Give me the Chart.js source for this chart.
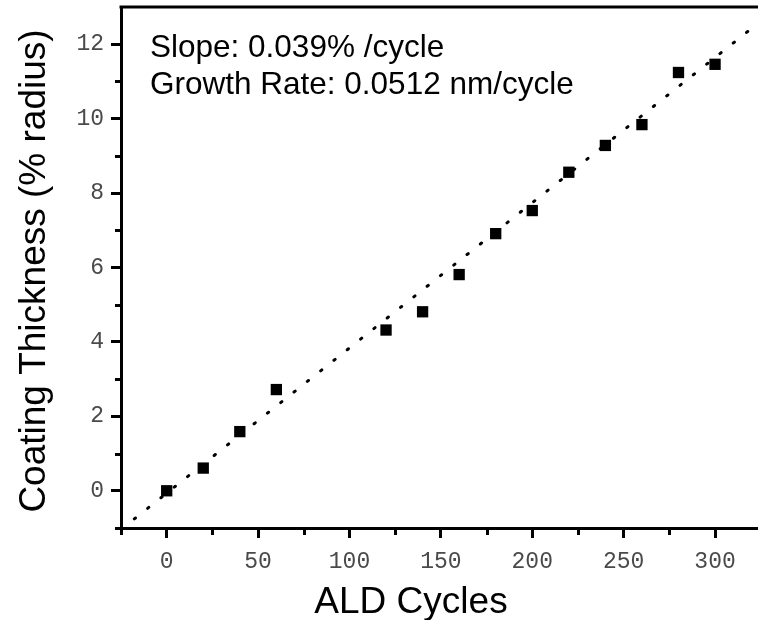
<!DOCTYPE html>
<html>
<head>
<meta charset="utf-8">
<script src="https://cdn.jsdelivr.net/npm/chart.js@4"></script>
<style>
  body { margin: 0; background: #fff; }
  canvas { display: block; }
</style>
</head>
<body>
<canvas id="thicknessChart" width="758" height="620"></canvas>
<script>
// Coating thickness vs ALD cycles
const cycles = [0, 20, 40, 60, 120, 140, 160, 180, 200, 220, 240, 260, 280, 300];
const thickness = [0, 0.61, 1.59, 2.72, 4.32, 4.81, 5.81, 6.91, 7.53, 8.56, 9.28, 9.84, 11.24, 11.46];

// linear fit (dotted line)
const fitCycles = [-25, 323.5];
const fitThickness = [-1.04, 12.56];

const xTicks = [0, 50, 100, 150, 200, 250, 300];
const yTicks = [0, 2, 4, 6, 8, 10, 12];
const xMinorTicks = [-25, 25, 75, 125, 175, 225, 275];
const yMinorTicks = [-1, 1, 3, 5, 7, 9, 11];

const annotationLines = ['Slope: 0.039% /cycle', 'Growth Rate: 0.0512 nm/cycle'];
const xTitle = 'ALD Cycles';
const yTitle = 'Coating Thickness (% radius)';

const tickFont = { family: '"Liberation Mono", "Courier New", monospace', size: 23 };
const titleFont = '37px "Liberation Sans", Arial, sans-serif';

// minor ticks, top frame line, titles and the text box
const extrasPlugin = {
    id: 'extras',
    afterDraw(chart) {
        const ctx = chart.ctx;
        const area = chart.chartArea;
        const x = chart.scales.x;
        const y = chart.scales.y;
        ctx.save();
        ctx.strokeStyle = '#000';
        ctx.lineWidth = 3;
        ctx.beginPath();
        xMinorTicks.forEach(v => {
            const px = Math.round(x.getPixelForValue(v)) + 0.5;
            ctx.moveTo(px, area.bottom);
            ctx.lineTo(px, area.bottom + 7);
        });
        yMinorTicks.forEach(v => {
            const py = Math.round(y.getPixelForValue(v)) + 0.5;
            ctx.moveTo(area.left, py);
            ctx.lineTo(area.left - 6, py);
        });
        ctx.stroke();

        // top frame
        ctx.beginPath();
        ctx.moveTo(area.left - 1.5, area.top);
        ctx.lineTo(chart.width, area.top);
        ctx.stroke();

        ctx.fillStyle = '#000';
        ctx.font = titleFont;
        ctx.textAlign = 'center';
        ctx.textBaseline = 'alphabetic';
        ctx.fillText(xTitle, 411, 613);

        ctx.save();
        ctx.translate(45, 271);
        ctx.rotate(-Math.PI / 2);
        ctx.fillText(yTitle, 0, 0);
        ctx.restore();

        ctx.font = '31.5px "Liberation Sans", Arial, sans-serif';
        ctx.textAlign = 'left';
        annotationLines.forEach((line, i) => {
            ctx.fillText(line, 150, 57 + i * 37);
        });
        ctx.restore();
    }
};

const chart = new Chart(document.getElementById('thicknessChart'), {
    type: 'scatter',
    data: {
        datasets: [{
            label: 'Fit',
            data: fitCycles.map((c, i) => ({ x: c, y: fitThickness[i] })),
            showLine: true,
            borderColor: '#000',
            borderWidth: 3,
            borderDash: [1.5, 15.5],
            borderCapStyle: 'round',
            pointRadius: 0,
            order: 2
        }, {
            label: 'Data',
            data: cycles.map((c, i) => ({ x: c, y: thickness[i] })),
            pointStyle: 'rect',
            pointRadius: 8,
            pointBackgroundColor: '#000',
            pointBorderColor: '#000',
            pointBorderWidth: 0,
            order: 1
        }]
    },
    options: {
        responsive: false,
        animation: false,
        layout: {
            autoPadding: false,
            padding: { top: 7, right: 0, left: 0, bottom: 0 }
        },
        plugins: {
            legend: { display: false },
            tooltip: { enabled: false }
        },
        scales: {
            x: {
                type: 'linear',
                min: -25,
                max: 323.5,
                afterBuildTicks: scale => { scale.ticks = xTicks.map(v => ({ value: v })); },
                afterFit: scale => {
                    scale.height = 92;
                    scale.paddingLeft = 0;
                    scale.paddingRight = 0;
                },
                grid: {
                    drawOnChartArea: false,
                    tickLength: 10,
                    tickWidth: 3,
                    tickColor: '#000'
                },
                border: { color: '#000', width: 3 },
                ticks: {
                    color: '#4a4a4a',
                    font: tickFont,
                    padding: 10,
                    maxRotation: 0,
                    callback: v => String(v)
                }
            },
            y: {
                type: 'linear',
                min: -1,
                max: 13,
                afterBuildTicks: scale => { scale.ticks = yTicks.map(v => ({ value: v })); },
                afterFit: scale => {
                    scale.width = 121;
                    scale.paddingTop = 0;
                    scale.paddingBottom = 0;
                },
                grid: {
                    drawOnChartArea: false,
                    tickLength: 10,
                    tickWidth: 3,
                    tickColor: '#000'
                },
                border: { color: '#000', width: 3 },
                ticks: {
                    color: '#4a4a4a',
                    font: tickFont,
                    padding: 7,
                    callback: v => String(v)
                }
            }
        }
    },
    plugins: [extrasPlugin]
});
</script>
</body>
</html>
